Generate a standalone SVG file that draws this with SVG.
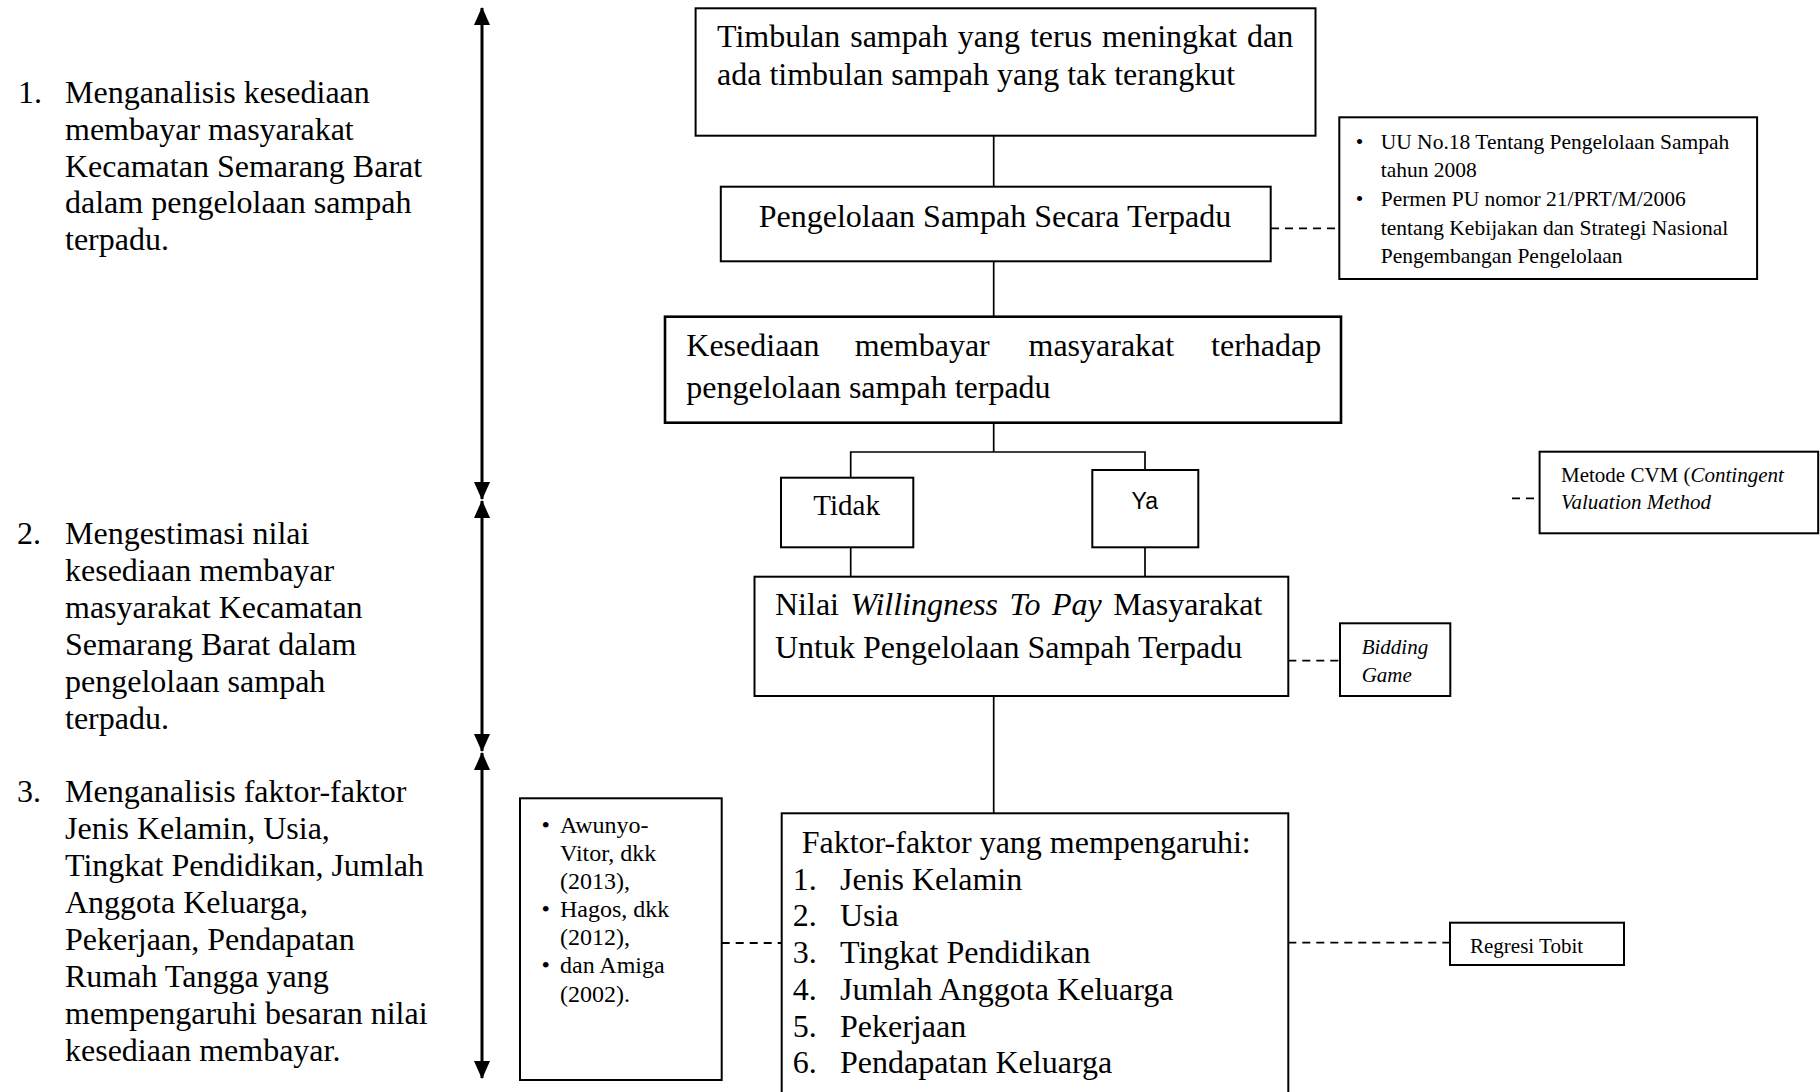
<svg xmlns="http://www.w3.org/2000/svg" width="1820" height="1092" viewBox="0 0 1820 1092">
<defs>
<style>
.box{fill:#fff;stroke:#000;stroke-width:2}
.boxk{fill:#fff;stroke:#000;stroke-width:2.6}
.ln{stroke:#000;stroke-width:1.7;fill:none}
.dash{stroke:#000;stroke-width:1.8;stroke-dasharray:8 6;fill:none}
.arr{stroke:#000;stroke-width:3;fill:none}
.t{font-family:"Liberation Serif","Times New Roman",serif;fill:#000}
.s{font-family:"Liberation Sans",Arial,sans-serif;fill:#000}
.f32{font-size:32px}
.f29{font-size:29px}
.f24{font-size:24px}
.f21{font-size:21.5px}
.f20{font-size:21px}
.i{font-style:italic}
</style>
<marker id="ah" viewBox="0 0 18 16" refX="17" refY="8" markerWidth="18" markerHeight="16" markerUnits="userSpaceOnUse" orient="auto-start-reverse">
<path d="M0,0 L18,8 L0,16 z" fill="#000"/>
</marker>
</defs>
<rect width="1820" height="1092" fill="#fff"/>

<g id="connectors">
<line class="arr" x1="482" y1="8" x2="482" y2="499" marker-start="url(#ah)" marker-end="url(#ah)"/>
<line class="arr" x1="482" y1="501" x2="482" y2="751" marker-start="url(#ah)" marker-end="url(#ah)"/>
<line class="arr" x1="482" y1="753" x2="482" y2="1078" marker-start="url(#ah)" marker-end="url(#ah)"/>
<line class="ln" x1="993.7" y1="136" x2="993.7" y2="187"/>
<line class="ln" x1="993.7" y1="261" x2="993.7" y2="317"/>
<polyline class="ln" points="993.7,423 993.7,452"/>
<polyline class="ln" points="850.7,478 850.7,452 1145,452 1145,472"/>
<line class="ln" x1="850.7" y1="547" x2="850.7" y2="577"/>
<line class="ln" x1="1145" y1="547" x2="1145" y2="577"/>
<line class="ln" x1="993.7" y1="696" x2="993.7" y2="813"/>
<line class="dash" x1="1271" y1="228.3" x2="1339" y2="228.3"/>
<line class="dash" x1="1512" y1="498.3" x2="1539.6" y2="498.3"/>
<line class="dash" x1="1288.3" y1="660.7" x2="1340" y2="660.7"/>
<line class="dash" x1="721.7" y1="943" x2="781.7" y2="943"/>
<line class="dash" x1="1288.3" y1="942.7" x2="1450" y2="942.7"/>
</g>

<g id="goal1">
<text class="t f32" x="18" y="103">1.</text>
<text class="t f32"><tspan x="65" y="103">Menganalisis kesediaan</tspan><tspan x="65" y="139.8">membayar masyarakat</tspan><tspan x="65" y="176.6">Kecamatan Semarang Barat</tspan><tspan x="65" y="213.4">dalam pengelolaan sampah</tspan><tspan x="65" y="250.2">terpadu.</tspan></text>
</g>
<g id="goal2">
<text class="t f32" x="17" y="543.5">2.</text>
<text class="t f32"><tspan x="65" y="543.5">Mengestimasi nilai</tspan><tspan x="65" y="580.5">kesediaan membayar</tspan><tspan x="65" y="617.5">masyarakat Kecamatan</tspan><tspan x="65" y="654.5">Semarang Barat dalam</tspan><tspan x="65" y="691.5">pengelolaan sampah</tspan><tspan x="65" y="728.5">terpadu.</tspan></text>
</g>
<g id="goal3">
<text class="t f32" x="17" y="802">3.</text>
<text class="t f32"><tspan x="65" y="802">Menganalisis faktor-faktor</tspan><tspan x="65" y="839">Jenis Kelamin, Usia,</tspan><tspan x="65" y="876">Tingkat Pendidikan, Jumlah</tspan><tspan x="65" y="913">Anggota Keluarga,</tspan><tspan x="65" y="950">Pekerjaan, Pendapatan</tspan><tspan x="65" y="987">Rumah Tangga yang</tspan><tspan x="65" y="1024">mempengaruhi besaran nilai</tspan><tspan x="65" y="1061">kesediaan membayar.</tspan></text>
</g>

<g id="timbulan">
<rect class="box" x="695.6" y="8.3" width="619.9" height="127.4"/>
<text class="t f32" x="717" y="46.7" word-spacing="1.9">Timbulan sampah yang terus meningkat dan</text>
<text class="t f32" x="717" y="85">ada timbulan sampah yang tak terangkut</text>
</g>

<g id="pengelolaan">
<rect class="box" x="720.8" y="186.7" width="549.9" height="74.6"/>
<text class="t f32" x="995" y="226.7" text-anchor="middle">Pengelolaan Sampah Secara Terpadu</text>
</g>

<g id="regulasi">
<rect class="box" x="1339.3" y="117.3" width="417.8" height="161.7"/>
<text class="t f21"><tspan x="1355.7" y="149.3">•</tspan><tspan x="1380.7" y="149.3">UU No.18 Tentang Pengelolaan Sampah</tspan><tspan x="1380.7" y="176.7">tahun 2008</tspan><tspan x="1355.7" y="206">•</tspan><tspan x="1380.7" y="206">Permen PU nomor 21/PRT/M/2006</tspan><tspan x="1380.7" y="235">tentang Kebijakan dan Strategi Nasional</tspan><tspan x="1380.7" y="263.3">Pengembangan Pengelolaan</tspan></text>
</g>

<g id="kesediaan">
<rect class="boxk" x="665" y="316.7" width="676" height="106"/>
<text class="t f32"><tspan x="686.3" y="356">Kesediaan</tspan><tspan x="854.7" y="356">membayar</tspan><tspan x="1028.5" y="356">masyarakat</tspan><tspan x="1211.1" y="356">terhadap</tspan><tspan x="686.3" y="398.3">pengelolaan sampah terpadu</tspan></text>
</g>

<g id="cvm">
<rect class="box" x="1539.6" y="451.7" width="278.6" height="81.6"/>
<text class="t f20"><tspan x="1561" y="481.7">Metode CVM (</tspan><tspan class="i">Contingent</tspan><tspan class="i" x="1561" y="509.3">Valuation Method</tspan></text>
</g>

<g id="tidak">
<rect class="box" x="781" y="477.7" width="132.3" height="69.6"/>
<text class="t f29" x="813.3" y="515">Tidak</text>
</g>

<g id="ya">
<rect class="box" x="1092.3" y="470" width="106" height="77.3"/>
<text class="s" font-size="23" x="1131.5" y="509">Ya</text>
</g>

<g id="wtp">
<rect class="box" x="754.5" y="576.7" width="533.8" height="119.3"/>
<text class="t f32" x="775" y="615" word-spacing="3.5">Nilai <tspan class="i">Willingness To Pay</tspan> Masyarakat</text>
<text class="t f32" x="775" y="658.3">Untuk Pengelolaan Sampah Terpadu</text>
</g>

<g id="bidding">
<rect class="box" x="1340" y="623.3" width="110.3" height="72.7"/>
<text class="t f20 i"><tspan x="1361.7" y="654.3">Bidding</tspan><tspan x="1361.7" y="681.7">Game</tspan></text>
</g>

<g id="referensi">
<rect class="box" x="520" y="798.3" width="201.7" height="281.7"/>
<text class="t f24"><tspan x="541.5" y="833.3">•</tspan><tspan x="560" y="833.3">Awunyo-</tspan><tspan x="560" y="861">Vitor, dkk</tspan><tspan x="560" y="889">(2013),</tspan><tspan x="541.5" y="917">•</tspan><tspan x="560" y="917">Hagos, dkk</tspan><tspan x="560" y="945">(2012),</tspan><tspan x="541.5" y="973.3">•</tspan><tspan x="560" y="973.3">dan Amiga</tspan><tspan x="560" y="1001.7">(2002).</tspan></text>
</g>

<g id="faktor">
<rect class="box" x="781.7" y="813.3" width="506.6" height="290"/>
<text class="t f32"><tspan x="801.7" y="852.7">Faktor-faktor yang mempengaruhi:</tspan><tspan x="792.7" y="889.7">1.</tspan><tspan x="840" y="889.7">Jenis Kelamin</tspan><tspan x="792.7" y="926.4">2.</tspan><tspan x="840" y="926.4">Usia</tspan><tspan x="792.7" y="963.1">3.</tspan><tspan x="840" y="963.1">Tingkat Pendidikan</tspan><tspan x="792.7" y="999.8">4.</tspan><tspan x="840" y="999.8">Jumlah Anggota Keluarga</tspan><tspan x="792.7" y="1036.5">5.</tspan><tspan x="840" y="1036.5">Pekerjaan</tspan><tspan x="792.7" y="1073.2">6.</tspan><tspan x="840" y="1073.2">Pendapatan Keluarga</tspan></text>
</g>

<g id="regresi">
<rect class="box" x="1450" y="922.7" width="174" height="42.3"/>
<text class="t f20" x="1470" y="953.3">Regresi Tobit</text>
</g>
</svg>
